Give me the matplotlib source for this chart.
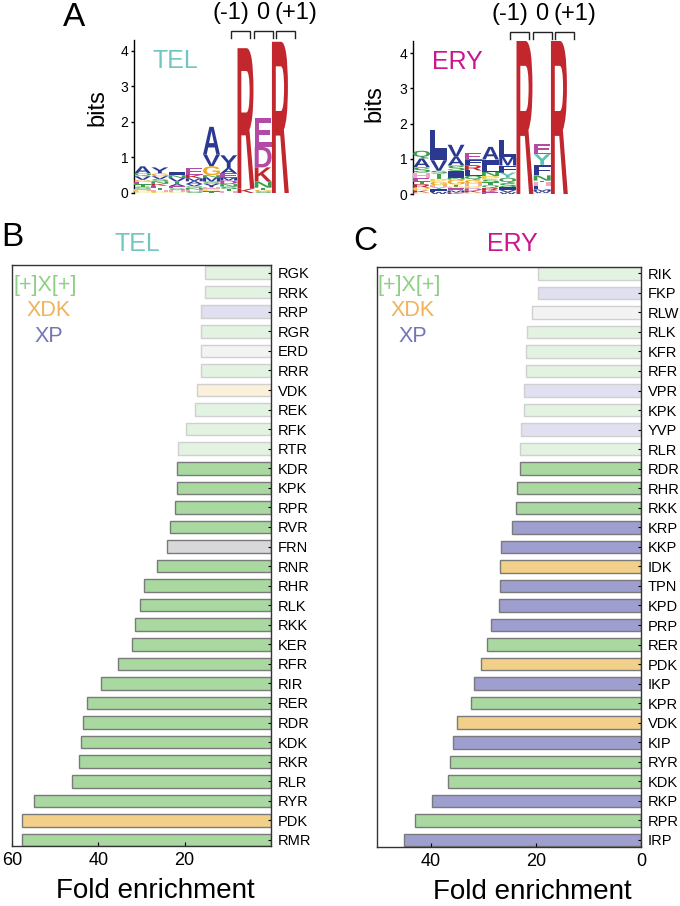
import matplotlib
matplotlib.use('Agg')
import matplotlib.pyplot as plt
from matplotlib.patheffects import AbstractPathEffect
from matplotlib.transforms import Affine2D
import matplotlib.colors as mcolors
import numpy as np

plt.rcParams['font.family'] = ['Liberation Sans', 'DejaVu Sans']

# ---------------- data ----------------
tel_labels = ['RGK', 'RRK', 'RRP', 'RGR', 'ERD', 'RRR', 'VDK', 'REK', 'RFK', 'RTR',
              'KDR', 'KPK', 'RPR', 'RVR', 'FRN', 'RNR', 'RHR', 'RLK', 'RKK', 'KER',
              'RFR', 'RIR', 'RER', 'RDR', 'KDK', 'RKR', 'RLR', 'RYR', 'PDK', 'RMR']
tel_values = [15.2, 15.3, 16.2, 16.2, 16.3, 16.3, 17.2, 17.5, 19.6, 21.5,
              21.8, 21.8, 22.2, 23.5, 24.2, 26.5, 29.5, 30.3, 31.4, 32.2,
              35.5, 39.3, 42.6, 43.5, 44.0, 44.5, 46.2, 54.8, 57.6, 57.6]
tel_class = ['plus', 'plus', 'xp', 'plus', 'other', 'plus', 'xdk', 'plus', 'plus', 'plus',
             'plus', 'plus', 'plus', 'plus', 'other', 'plus', 'plus', 'plus', 'plus', 'plus',
             'plus', 'plus', 'plus', 'plus', 'plus', 'plus', 'plus', 'plus', 'xdk', 'plus']
tel_faint = [1] * 10 + [0] * 20

ery_labels = ['RIK', 'FKP', 'RLW', 'RLK', 'KFR', 'RFR', 'VPR', 'KPK', 'YVP', 'RLR',
              'RDR', 'RHR', 'RKK', 'KRP', 'KKP', 'IDK', 'TPN', 'KPD', 'PRP', 'RER',
              'PDK', 'IKP', 'KPR', 'VDK', 'KIP', 'RYR', 'KDK', 'RKP', 'RPR', 'IRP']
ery_values = [19.6, 19.7, 20.7, 21.7, 21.9, 21.9, 22.2, 22.2, 22.9, 23.0,
              23.0, 23.6, 23.8, 24.6, 26.7, 26.9, 26.9, 27.0, 28.6, 29.3,
              30.5, 31.8, 32.3, 35.0, 35.9, 36.3, 36.7, 39.9, 43.1, 45.1]
ery_class = ['plus', 'xp', 'other', 'plus', 'plus', 'plus', 'xp', 'plus', 'xp', 'plus',
             'plus', 'plus', 'plus', 'xp', 'xp', 'xdk', 'xp', 'xp', 'xp', 'plus',
             'xdk', 'xp', 'plus', 'xdk', 'xp', 'plus', 'plus', 'xp', 'plus', 'xp']
ery_faint = [1] * 10 + [0] * 20

# sequence logo stacks (bottom -> top), heights in bits
tel_logo = [
    [('C', .03), ('P', .04), ('H', .05), ('S', .06), ('T', .06), ('E', .07), ('G', .06), ('V', .10), ('Q', .08), ('A', .20)],
    [('P', .04), ('H', .05), ('T', .05), ('E', .06), ('K', .06), ('N', .07), ('S', .06), ('V', .08), ('G', .08), ('Y', .17)],
    [('C', .03), ('H', .05), ('S', .05), ('E', .06), ('A', .06), ('T', .07), ('V', .10), ('N', .08), ('I', .10)],
    [('S', .04), ('H', .05), ('N', .05), ('Q', .05), ('V', .06), ('A', .08), ('M', .08), ('K', .10), ('E', .18)],
    [('T', .05), ('P', .05), ('H', .06), ('Y', .10), ('S', .06), ('M', .12), ('N', .06), ('G', .25), ('V', .33), ('A', .78)],
    [('H', .05), ('T', .06), ('S', .07), ('N', .07), ('D', .10), ('M', .08), ('E', .12), ('A', .15), ('Y', .36)],
    [('K', .12), ('R', 3.95)],
    [('S', .04), ('G', .05), ('T', .06), ('N', .17), ('K', .40), ('D', .58), ('E', .80)],
    [('R', 4.25)],
]
ery_logo = [
    [('C', .04), ('K', .06), ('P', .08), ('R', .10), ('T', .06), ('E', .12), ('H', .15), ('S', .15), ('A', .25), ('Q', .22)],
    [('W', .06), ('F', .08), ('Y', .06), ('H', .05), ('G', .10), ('P', .08), ('T', .15), ('S', .08), ('V', .30), ('I', .25), ('L', .62)],
    [('K', .04), ('M', .06), ('E', .06), ('P', .05), ('T', .06), ('G', .14), ('N', .05), ('I', .20), ('S', .15), ('A', .25), ('V', .34)],
    [('C', .04), ('K', .06), ('D', .06), ('P', .06), ('H', .08), ('G', .10), ('Q', .12), ('L', .15), ('R', .15), ('F', .15), ('E', .20)],
    [('E', .05), ('K', .06), ('R', .06), ('Q', .08), ('T', .08), ('S', .08), ('P', .10), ('N', .12), ('L', .20), ('I', .15), ('A', .36)],
    [('W', .05), ('V', .06), ('I', .08), ('S', .12), ('Q', .15), ('Y', .15), ('F', .20), ('M', .25), ('L', .48)],
    [('R', 4.35)],
    [('C', .03), ('W', .05), ('M', .05), ('L', .10), ('H', .10), ('T', .05), ('N', .15), ('F', .30), ('Y', .30), ('E', .29)],
    [('R', 4.35)],
]
site_labels = ['(-1)', '0', '(+1)']
legend_labels = ['[+]X[+]', 'XDK', 'XP']

# ---------------- styles ----------------
BLUE, RED, MAG, GRN = '#2b3990', '#c1272d', '#b24aa6', '#3a9e4c'
letter_colors = {'A': BLUE, 'V': BLUE, 'L': BLUE, 'I': BLUE, 'M': BLUE, 'F': BLUE, 'W': BLUE,
                 'R': RED, 'K': RED, 'H': '#f2a5c0', 'D': MAG, 'E': MAG,
                 'N': GRN, 'Q': GRN, 'S': GRN, 'T': GRN, 'G': '#f2a81d', 'P': '#eed23c',
                 'C': '#e6e27a', 'Y': '#5bc0b5'}
tel_letter_colors = dict(letter_colors, Y=BLUE)

full_col = {'plus': '#a9d9a1', 'xdk': '#f2d08a', 'xp': '#9e9ecf', 'other': '#d8d8da'}
legend_cols = ['#8fcf85', '#f0b25a', '#7474b8']
TEL_C, ERY_C = '#72c6c0', '#c8168c'


def mix(c, f):
    r = np.array(mcolors.to_rgb(c))
    return tuple(f * r + (1 - f) * np.ones(3))


W, H = 680, 906
fig = plt.figure(figsize=(W / 100, H / 100), dpi=100)


def ax_px(x0, y0, x1, y1):
    return fig.add_axes([x0 / W, 1 - y1 / H, (x1 - x0) / W, (y1 - y0) / H])


def ftext(x, y, s, **kw):
    kw.setdefault('ha', 'center')
    kw.setdefault('va', 'center')
    return fig.text(x / W, 1 - y / H, s, **kw)


class StackedGlyphs(AbstractPathEffect):
    """Draw each line of a multi-line text as one glyph stretched into its own
    box (data coords) with its own colour: a sequence-logo column."""

    def __init__(self, ax, boxes, colors):
        super().__init__()
        self.ax = ax
        self.boxes = boxes
        self.colors = colors
        self.i = 0

    def draw_path(self, renderer, gc, tpath, affine, rgbFace=None):
        k = self.i % len(self.boxes)
        self.i += 1
        ext = affine.transform_path(tpath).get_extents()
        if ext.width <= 0 or ext.height <= 0:
            return
        x0, y0, x1, y1 = self.boxes[k]
        (dx0, dy0), (dx1, dy1) = self.ax.transData.transform([(x0, y0), (x1, y1)])
        t = affine + Affine2D().translate(-ext.x0, -ext.y0).scale(
            (dx1 - dx0) / ext.width, (dy1 - dy0) / ext.height).translate(dx0, dy0)
        renderer.draw_path(gc, tpath, t, mcolors.to_rgba(self.colors[k]))


def draw_logo(ax, stacks, colors, name, name_color, ylim_top, label_xy, px_per_bit):
    ax.set_xlim(0.5, len(stacks) + 0.5)
    ax.set_ylim(0, ylim_top)
    for i, stack in enumerate(stacks):
        xc = i + 1
        b = 0.0
        boxes, cols = [], []
        for letter, h in stack:
            boxes.append((xc - 0.49, b, xc + 0.49, b + h))
            cols.append(colors[letter])
            b += h
        letters = [l for l, _ in stack][::-1]      # top -> bottom lines
        boxes, cols = boxes[::-1], cols[::-1]
        # nominal size so that the text box roughly matches the column
        fs = min(b * px_per_bit / (len(letters) * 1.2) * 0.72, 14)
        t = ax.text(xc, b / 2, '\n'.join(letters), ha='center', va='center',
                    fontsize=max(fs, 2.5), fontweight='bold', linespacing=1.0,
                    color=cols[0], clip_on=False)
        t.set_path_effects([StackedGlyphs(ax, boxes, cols)])
    for s in ['top', 'right', 'bottom']:
        ax.spines[s].set_visible(False)
    ax.spines['left'].set_linewidth(1.0)
    ax.set_xticks([])
    ax.set_yticks([0, 1, 2, 3, 4])
    ax.tick_params(axis='y', direction='out', length=2.5, width=1, labelsize=10, pad=1.5)
    ax.set_ylabel('bits', fontsize=17)
    ax.yaxis.set_label_coords(*label_xy)
    ax.text(0.12, 0.86, name, transform=ax.transAxes, ha='left', va='center',
            fontsize=18, color=name_color)
    # site brackets and labels above last three columns
    n = len(stacks)
    mid = n - 1
    ylo = ylim_top + 0.06
    yhi = ylim_top + 0.26
    for k, lab in enumerate(site_labels):
        c = mid + (k - 1) * 1.3
        ax.plot([c - 0.55, c - 0.55, c + 0.55, c + 0.55], [ylo, yhi, yhi, ylo],
                color='#222222', lw=1.0, clip_on=False, solid_joinstyle='miter')
        ax.text(mid + (k - 1) * 1.9, ylim_top + 0.76, lab, ha='center', va='center',
                fontsize=17, clip_on=False)


def bar_panel(ax, labels, values, classes, faint, xmax, xticks, ylim, xlab_x):
    y = np.arange(len(labels))
    faces = [mix(full_col[c], 0.32) if f else full_col[c] for c, f in zip(classes, faint)]
    edges = [mix('#7a7a7a', 0.35) if f else '#7a7a7a' for f in faint]
    ax.barh(y, values, height=0.64, color=faces, edgecolor=edges, linewidth=1.0)
    ax.set_xlim(xmax, 0)
    ax.set_ylim(*ylim)
    ax.yaxis.tick_right()
    ax.set_yticks(y)
    ax.set_yticklabels(labels, fontsize=10.5)
    ax.set_xticks(xticks)
    ax.tick_params(axis='y', direction='in', length=2, pad=5)
    ax.tick_params(axis='x', direction='in', length=3, labelsize=13, pad=4)
    for s in ax.spines.values():
        s.set_linewidth(1.0)
        s.set_color('#333333')
    ax.set_xlabel('Fold enrichment', fontsize=20)
    ax.xaxis.label.set_va('baseline')
    ax.xaxis.set_label_coords(xlab_x, -0.090)


# ---------------- panel A ----------------
ax_a1 = ax_px(134, 40, 289, 193)
draw_logo(ax_a1, tel_logo, tel_letter_colors, 'TEL', TEL_C, 4.3, (-0.165, 0.56), 35.6)
ax_a2 = ax_px(413, 41, 568, 194)
draw_logo(ax_a2, ery_logo, letter_colors, 'ERY', ERY_C, 4.35, (-0.18, 0.59), 35.2)

# ---------------- panels B, C ----------------
ax_b = ax_px(12, 265, 271, 846)
bar_panel(ax_b, tel_labels, tel_values, tel_class, tel_faint, 59.8, [60, 40, 20],
          (29.31, -0.39), 0.552)
ax_c = ax_px(377, 267, 641, 847)
bar_panel(ax_c, ery_labels, ery_values, ery_class, ery_faint, 50.3, [40, 20, 0],
          (29.36, -0.32), 0.589)

# titles, panel letters, legends
ftext(74, 17, 'A', fontsize=24)
ftext(12, 238, 'B', fontsize=24)
ftext(365, 242, 'C', fontsize=24)
ftext(137, 244, 'TEL', fontsize=18, color=TEL_C)
ftext(512, 244, 'ERY', fontsize=18, color=ERY_C)
for (x, yy), lab, col in zip([(45, 286), (49, 311), (49, 337)], legend_labels, legend_cols):
    ftext(x, yy, lab, fontsize=15.5, color=col)
for (x, yy), lab, col in zip([(409, 286), (413, 311), (413, 337)], legend_labels, legend_cols):
    ftext(x, yy, lab, fontsize=15.5, color=col)

fig.savefig('out.png', dpi=100)
